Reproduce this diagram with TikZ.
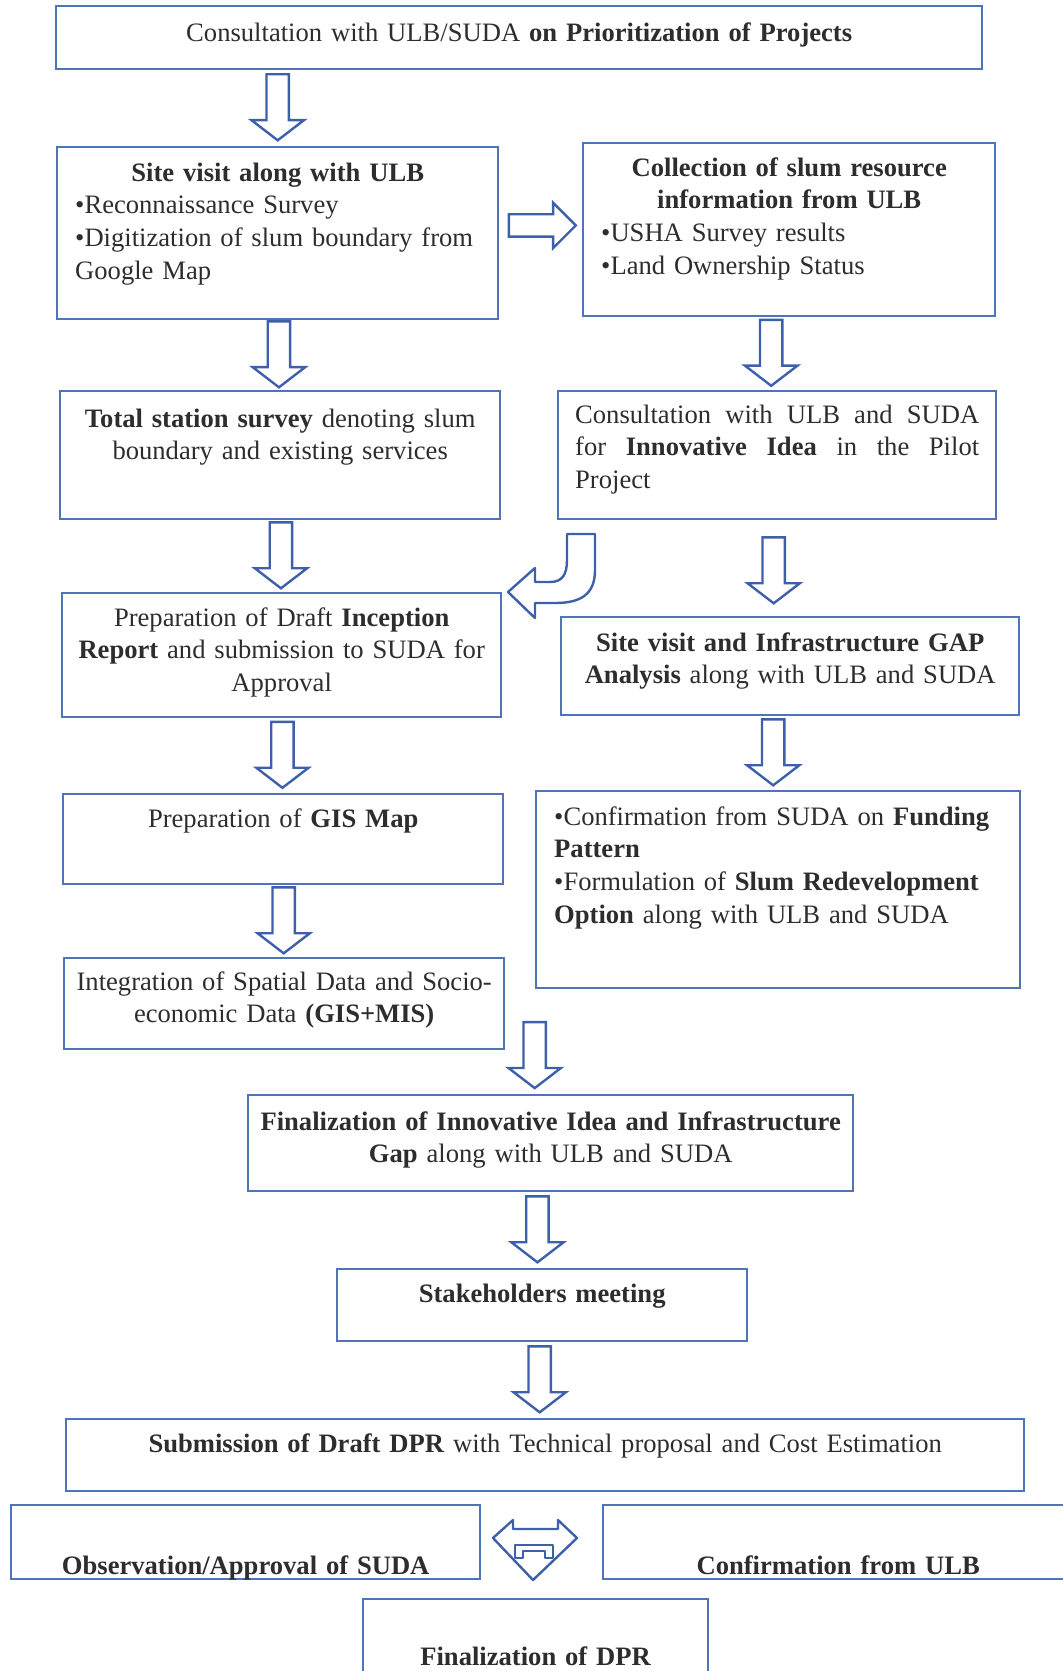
\documentclass[tikz,border=0pt]{standalone}
\usepackage{fontspec}
\setmainfont{Liberation Serif}
\usetikzlibrary{shapes.arrows, positioning, calc}
\definecolor{boxblue}{RGB}{79,116,184}
\definecolor{arrowblue}{RGB}{62,96,170}
\definecolor{txtgray}{RGB}{45,45,45}

\begin{document}
\begin{tikzpicture}[
    x=0.5pt, y=-0.5pt,
    flowbox/.style={draw=boxblue, line width=1.2pt, anchor=north west, inner xsep=6pt, inner ysep=0pt, text=txtgray, font=\fontsize{13.3pt}{16.3pt}\selectfont, align=center},
    dnarrow/.style={single arrow, draw=arrowblue, line width=1.2pt, fill=white, yshift=2.6pt, rotate=-90, minimum height=33pt, minimum width=25pt, single arrow head extend=7.5pt, single arrow tip angle=105, inner sep=5pt},
    rtarrow/.style={single arrow, draw=arrowblue, line width=1.2pt, fill=white, xshift=-3pt, minimum height=33.5pt, minimum width=22.5pt, single arrow head extend=5.75pt, inner sep=5pt},
    blockarrow/.style={draw=arrowblue, line width=1.2pt, line join=round, fill=white}
]
    \useasboundingbox (0,0) rectangle (1062,1671);

    % Boxes
    \node[flowbox, text width=451pt, text height=17.5pt, text depth=14pt] (top) at (55,5) {Consultation with ULB/SUDA \textbf{on Prioritization of Projects}};
    \node[flowbox, align=left, inner xsep=9pt, text width=202.5pt, text height=17pt, text depth=69pt] (site) at (56,146) {\hfill\textbf{Site visit along with ULB}\hfill\null\\ •Reconnaissance Survey\\ •Digitization of slum boundary from\\ Google Map};
    \node[flowbox, align=left, inner xsep=9pt, text width=188pt, text height=16.5pt, text depth=70pt] (collect) at (582,142) {\hfill\textbf{Collection of slum resource}\hfill\null\\ \hfill\textbf{information from ULB}\hfill\null\\ •USHA Survey results\\ •Land Ownership Status};
    \node[flowbox, text width=208pt, text height=18pt, text depth=46pt] (total) at (59,390) {\textbf{Total station survey} denoting slum\\ boundary and existing services};
    \node[flowbox, align=justify, inner xsep=8.5pt, text width=202pt, text height=16pt, text depth=48pt] (consult) at (557,390) {Consultation with ULB and SUDA\linebreak for \textbf{Innovative Idea} in the Pilot\linebreak Project};
    \node[flowbox, text width=207.5pt, text height=16.5pt, text depth=45.5pt] (draft) at (61,592) {Preparation of Draft \textbf{Inception}\\ \textbf{Report} and submission to SUDA for\\ Approval};
    \node[flowbox, text width=217pt, text height=17pt, text depth=32pt] (gap) at (560,616) {\textbf{Site visit and Infrastructure GAP}\\ \textbf{Analysis} along with ULB and SUDA};
    \node[flowbox, text width=208pt, text height=16.5pt, text depth=28.5pt] (gis) at (62,793) {Preparation of \textbf{GIS Map}};
    \node[flowbox, align=left, inner xsep=9pt, text width=224pt, text height=17pt, text depth=81.5pt] (fund) at (535,790) {•Confirmation from SUDA on \textbf{Funding}\\ \textbf{Pattern}\\ •Formulation of \textbf{Slum Redevelopment}\\ \textbf{Option} along with ULB and SUDA};
    \node[flowbox, text width=208pt, text height=16pt, text depth=29.5pt] (integ) at (63,957) {Integration of Spatial Data and Socio-\\ economic Data \textbf{(GIS+MIS)}};
    \node[flowbox, text width=290.5pt, text height=17.5pt, text depth=30.5pt] (final) at (247,1094) {\textbf{Finalization of Innovative Idea and Infrastructure}\\ \textbf{Gap} along with ULB and SUDA};
    \node[flowbox, text width=193pt, text height=16.5pt, text depth=19.5pt] (stake) at (336,1268) {\textbf{Stakeholders meeting}};
    \node[flowbox, text width=467pt, text height=16.5pt, text depth=19.5pt] (dpr) at (65,1418) {\textbf{Submission of Draft DPR} with Technical proposal and Cost Estimation};
    \node[flowbox, text width=222.5pt, text height=34.5pt, text depth=2.5pt] (obs) at (10,1504) {\textbf{Observation/Approval of SUDA}};
    \node[flowbox, text width=223pt, text height=34.5pt, text depth=2.5pt] (conf) at (602,1504) {\textbf{Confirmation from ULB}};
    \node[flowbox, text width=160.5pt, text height=33pt, text depth=8pt] (findpr) at (362,1598) {\textbf{Finalization of DPR}};

    % Arrows
    \node[dnarrow] (a1) at ($(top.south -| site.north)!.5!(site.north)$) {};
    \node[dnarrow] (a2) at ($(site.south)!.5!(total.north)$) {};
    \node[dnarrow] (a3) at ($(total.south)!.5!(draft.north)$) {};
    \node[dnarrow] (a4) at ($(draft.south)!.5!(gis.north)$) {};
    \node[dnarrow] (a5) at ($(gis.south)!.5!(integ.north)$) {};
    \node[dnarrow] (a6) at ($(collect.south)!.5!(consult.north)+(-12,0)$) {};
    \node[dnarrow] (a7) at ($(consult.south)!.5!(gap.north)+(-10,3)$) {};
    \node[dnarrow] (a8) at ($(gap.south)!.5!(fund.north)+(-11,0)$) {};
    \node[dnarrow] (a9) at ($(final.north)+(-16,-38)$) {};
    \node[dnarrow] (a10) at ($(final.south)!.5!(stake.north)+(-9,0)$) {};
    \node[dnarrow] (a11) at ($(stake.south)!.5!(dpr.north)+(-4,0)$) {};
    \node[rtarrow] (ar) at ($(site.east)!.5!(collect.west)+(2,-6)$) {};

    % Turning arrow
    \draw[blockarrow] (567,534) -- (595,534) -- (595,570) .. controls (595,595) and (580,603) .. (555,603)
        -- (535,603) -- (535,618) -- (508,592) -- (535,568) -- (535,582) -- (550,582)
        .. controls (562,582) and (567,575) .. (567,560) -- cycle;

    % Two-way arrow
    \draw[blockarrow] (513,1529) -- (513,1520) -- (493,1538) -- (533,1580) -- (577,1538) -- (558,1520) -- (558,1529) -- cycle;
    \draw[blockarrow] (515,1558) -- (515,1545) -- (553,1545) -- (553,1558) -- (545,1558) -- (545,1551) -- (523,1551) -- (523,1558) -- cycle;
\end{tikzpicture}
\end{document}
